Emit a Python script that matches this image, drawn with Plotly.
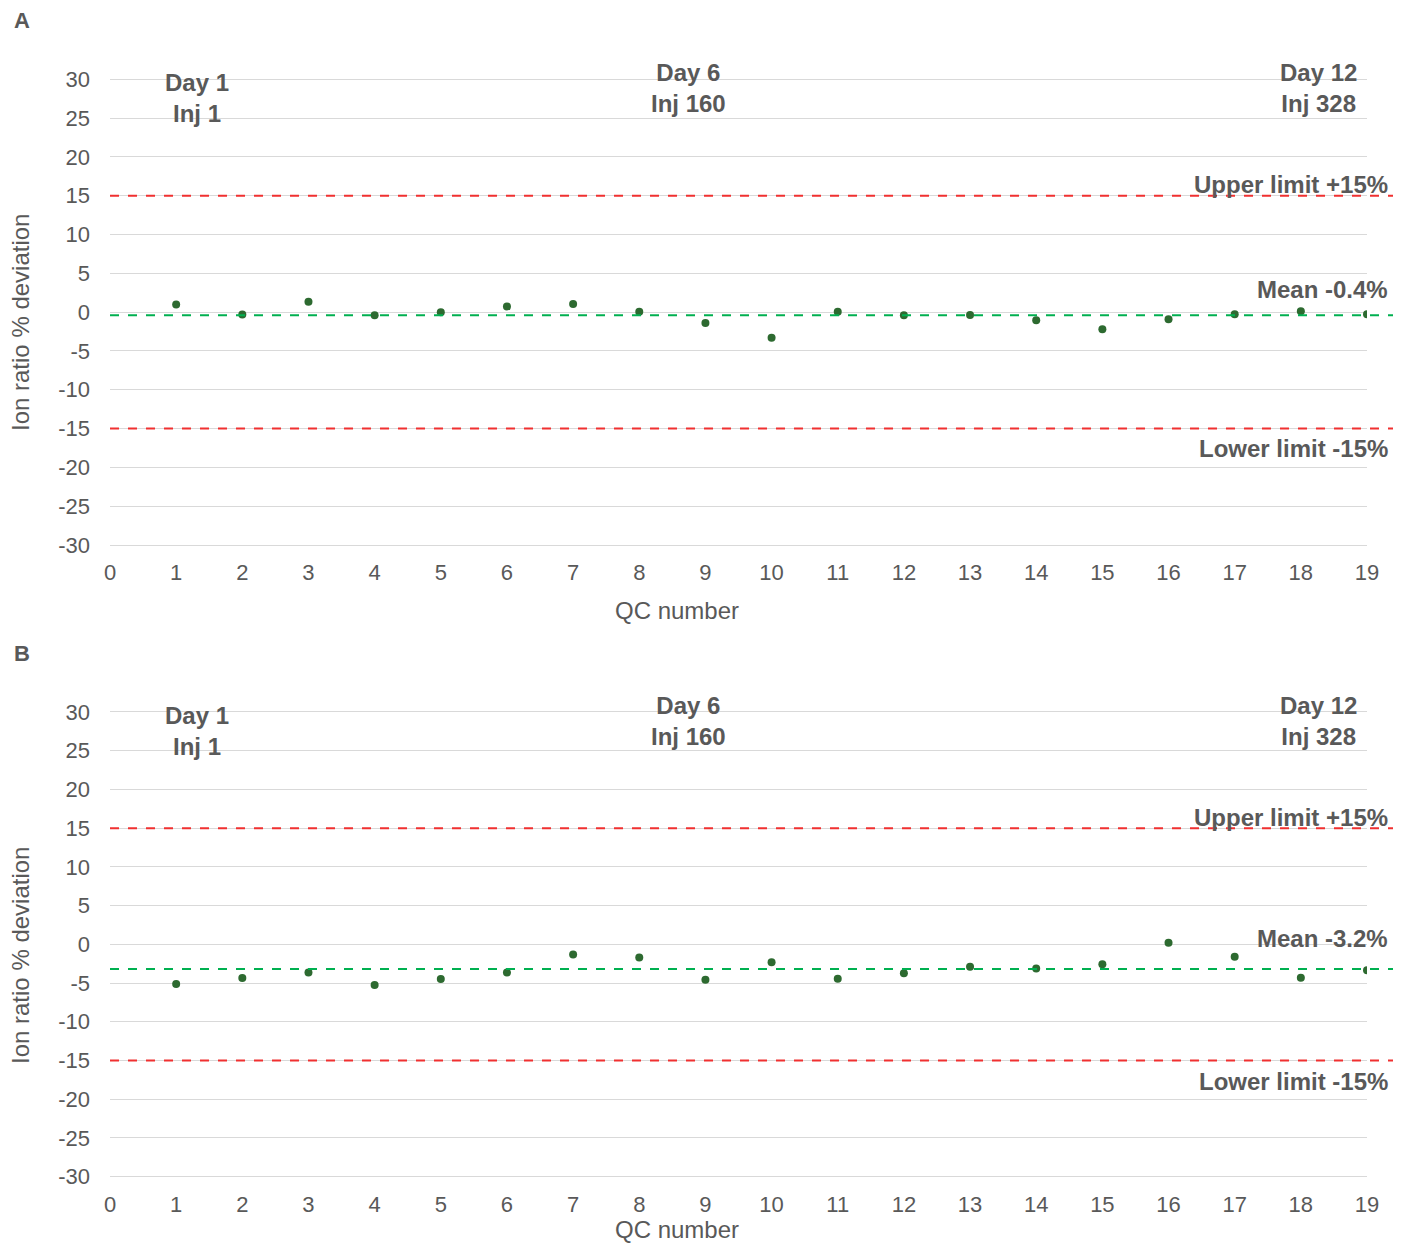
import plotly.graph_objects as go
from plotly.subplots import make_subplots

qc_numbers = list(range(1, 20))
panel_a_values = [1.0, -0.3, 1.35, -0.4, 0.0, 0.74, 1.04, 0.04, -1.39, -3.3,
                  0.04, -0.4, -0.35, -1.04, -2.2, -0.9, -0.26, 0.13, -0.26]
panel_b_values = [-5.13, -4.35, -3.65, -5.26, -4.48, -3.65, -1.30, -1.70, -4.57, -2.30,
                  -4.43, -3.74, -2.91, -3.13, -2.57, 0.22, -1.61, -4.30, -3.35]
means = [-0.4, -3.2]
upper_limit = 15
lower_limit = -15
x_ticks = list(range(0, 20))
y_ticks = list(range(-30, 31, 5))
y_tick_text = [str(v) for v in y_ticks]
panel_labels = ["A", "B"]
day_labels = ["Day 1<br>Inj 1", "Day 6<br>Inj 160", "Day 12<br>Inj 328"]

# page body has an 8px margin on each side; work in reference pixel coords
OFF = 8
W, H = 1404 - 2 * OFF, 1255 - 2 * OFF
L = 110 - OFF
R = W - (1367 - OFF)
PX_PER_UNIT = (545 - 79) / 60.0
PAD = 0.3
T = int(round(79 - PAD * PX_PER_UNIT - OFF))
B_PIX = 1177 + PAD * PX_PER_UNIT
B = int(round(H - (B_PIX - OFF)))
PW = W - L - R
PH = H - T - B


def px(x):
    return (x - OFF - L) / PW


def py(y):
    return (H - B - (y - OFF)) / PH


FONT = "Liberation Sans, Arial, sans-serif"
GREY = "#595959"

fig = make_subplots(rows=2, cols=1, vertical_spacing=0.0)

series = [panel_a_values, panel_b_values]
for i, vals in enumerate(series):
    fig.add_trace(go.Scatter(x=qc_numbers, y=vals, mode="markers",
                             marker=dict(color="#2d6a30", size=8),
                             showlegend=False), row=i + 1, col=1)

doms = [[py(545 + PAD * PX_PER_UNIT), py(79 - PAD * PX_PER_UNIT)],
        [py(1177 + PAD * PX_PER_UNIT), py(712 - PAD * PX_PER_UNIT)]]
doms = [[max(0, d[0]), min(1, d[1])] for d in doms]
for i in range(2):
    ax = "" if i == 0 else "2"
    fig.layout["yaxis" + ax].update(
        domain=doms[i], range=[-30 - PAD, 30 + PAD], tickvals=y_ticks, ticktext=y_tick_text,
        showgrid=True, gridcolor="#d9d9d9", gridwidth=1, zeroline=False,
        showline=False, ticks="", ticklabelstandoff=19,
        tickfont=dict(family=FONT, size=22, color=GREY))
    fig.layout["xaxis" + ax].update(
        range=[0, 19], tickvals=x_ticks, showgrid=False, zeroline=False,
        showline=False, ticks="", ticklabelstandoff=10,
        tickfont=dict(family=FONT, size=22, color=GREY))

shapes = []
annotations = []
offsets = [0, 633]
mean_label_y = [289, 938]
ytitle_y = [323, 956]
xtitle_y = [610, 1229]
for i in range(2):
    yref = "y" if i == 0 else "y2"
    o = offsets[i]
    for val, col in [(upper_limit, "#f03030"), (lower_limit, "#f03030"), (means[i], "#00b050")]:
        shapes.append(dict(type="line", xref="paper", yref=yref, x0=0, x1=px(1393),
                           y0=val, y1=val, line=dict(color=col, width=2, dash="dash")))
    annotations.append(dict(text="<b>%s</b>" % panel_labels[i], xref="paper", yref="paper",
                            x=px(22), y=py(20 + o), xanchor="center", yanchor="middle",
                            showarrow=False, font=dict(family=FONT, size=22, color=GREY)))
    annotations.append(dict(text="Ion ratio % deviation", xref="paper", yref="paper",
                            x=px(20), y=py(ytitle_y[i]), xanchor="center", yanchor="middle",
                            textangle=-90, showarrow=False,
                            font=dict(family=FONT, size=24, color=GREY)))
    annotations.append(dict(text="QC number", xref="paper", yref="paper",
                            x=px(677), y=py(xtitle_y[i]), xanchor="center", yanchor="middle",
                            showarrow=False, borderpad=0,
                            font=dict(family=FONT, size=24, color=GREY)))
    day_pos = [(197, 98 + o), (688, 88 + o), (1318, 88 + o)]
    for txt, (xx, yy) in zip(day_labels, day_pos):
        annotations.append(dict(text="<b>%s</b>" % txt, xref="paper", yref="paper",
                                x=px(xx), y=py(yy), xanchor="center", yanchor="middle",
                                showarrow=False, font=dict(family=FONT, size=24, color=GREY)))
    right_labels = [("Upper limit +15%", 184 + o), ("Mean %.1f%%" % means[i], mean_label_y[i]),
                    ("Lower limit -15%", 448 + o)]
    for txt, yy in right_labels:
        annotations.append(dict(text="<b>%s</b>" % txt, xref="paper", yref="paper",
                                x=px(1390), y=py(yy), xanchor="right", yanchor="middle",
                                showarrow=False, font=dict(family=FONT, size=24, color=GREY)))

fig.update_layout(width=W, height=H, margin=dict(l=L, r=R, t=T, b=B),
                  plot_bgcolor="white", paper_bgcolor="white",
                  shapes=shapes, annotations=annotations,
                  font=dict(family=FONT, color=GREY))

fig.write_html("out.html")
